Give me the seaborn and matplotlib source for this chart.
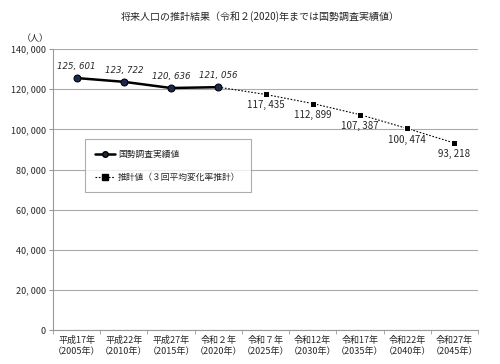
import matplotlib
matplotlib.use("Agg")
import matplotlib.pyplot as plt
import seaborn as sns
import pandas as pd
from matplotlib.lines import Line2D
from matplotlib.ticker import MultipleLocator, FixedLocator

categories = ["平成17年\n（2005年）", "平成22年\n（2010年）", "平成27年\n（2015年）", "令和２年\n（2020年）",
              "令和７年\n（2025年）", "令和12年\n（2030年）", "令和17年\n（2035年）", "令和22年\n（2040年）",
              "令和27年\n（2045年）"]
actual_values = [125601, 123722, 120636, 121056]
projected_values = [121056, 117435, 112899, 107387, 100474, 93218]
actual_name = "国勢調査実績値"
projected_name = "推計値（３回平均変化率推計）"
title = "将来人口の推計結果（令和２(2020)年までは国勢調査実績値）"
unit = "（人）"

sns.set_style("white")
plt.rcParams['font.family'] = ['Noto Sans CJK JP', 'DejaVu Sans']

df_a = pd.DataFrame({"x": list(range(len(actual_values))), "y": actual_values})
df_p = pd.DataFrame({"x": list(range(3, 3 + len(projected_values))), "y": projected_values})

fig = plt.figure(figsize=(5, 3.64), dpi=100)
ax = fig.add_axes([0.106, 0.093, 0.85, 0.772])

sns.lineplot(data=df_p, x="x", y="y", ax=ax, color="black", lw=0.8, linestyle=(0, (1.5, 1.5)),
             marker="s", markersize=4.5, markevery=list(range(1, len(projected_values))), zorder=3)
sns.lineplot(data=df_a, x="x", y="y", ax=ax, color="black", lw=1.8,
             marker="o", markersize=5, markerfacecolor="#1a2a4a", markeredgecolor="black", zorder=4)

for x, y in zip(df_a["x"], df_a["y"]):
    ax.text(x, y + 3500, f"{y:,}".replace(",", ", "), ha="center", va="bottom", fontsize=6.2,
            style="italic", family=["DejaVu Sans"])
for x, y in zip(df_p["x"][1:], df_p["y"][1:]):
    ax.text(x, y - 3000, f"{y:,}".replace(",", ", "), ha="center", va="top", fontsize=7)

ax.set_xlim(-0.5, len(categories) - 0.5)
ax.set_ylim(0, 140000)
ax.yaxis.set_major_locator(MultipleLocator(20000))
ax.set_yticklabels([f"{int(v):,}".replace(",", ", ") for v in ax.get_yticks()], fontsize=6.5)
ax.set_xticks(range(len(categories)))
ax.set_xticklabels(categories, fontsize=6.5, linespacing=1.3)
ax.xaxis.set_minor_locator(FixedLocator([i - 0.5 for i in range(len(categories) + 1)]))
ax.tick_params(axis="x", which="major", length=0, pad=4)
ax.tick_params(axis="x", which="minor", length=3, color="#999999", direction="out", bottom=True)
ax.tick_params(axis="y", length=3, color="#999999", left=True, pad=2)
ax.grid(axis="y", color="#aaaaaa", lw=0.8)
ax.set_axisbelow(True)
for s in ["top", "right"]:
    ax.spines[s].set_visible(False)
for s in ["left", "bottom"]:
    ax.spines[s].set_color("#999999")
    ax.spines[s].set_linewidth(0.8)
ax.set_xlabel("")
ax.set_ylabel("")

ax.text(-0.01, 1.02, unit, transform=ax.transAxes, ha="right", va="bottom", fontsize=6.5)
fig.text(0.52, 0.955, title, ha="center", va="center", fontsize=7.2)

handles = [Line2D([0], [0], color="black", lw=1.8, marker="o", markersize=4, markerfacecolor="#1a2a4a"),
           Line2D([0], [0], color="black", lw=0.8, linestyle=(0, (1.5, 1.5)), marker="s", markersize=4)]
leg = ax.legend(handles, [actual_name, projected_name], loc="upper left", bbox_to_anchor=(0.075, 0.68),
                fontsize=6.3, frameon=True, fancybox=False, edgecolor="#999999", borderpad=1.2,
                labelspacing=1.6, handlelength=2.2, handletextpad=0.4, borderaxespad=0)
leg.get_frame().set_linewidth(0.8)

fig.savefig("out.png", dpi=100)
